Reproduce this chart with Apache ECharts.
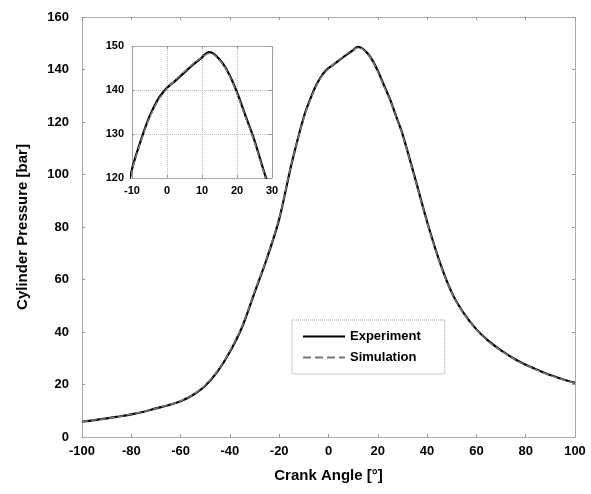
<!DOCTYPE html>
<html>
<head>
<meta charset="utf-8">
<script src="https://cdn.jsdelivr.net/npm/echarts@6/dist/echarts.min.js"></script>
<style>html,body{margin:0;padding:0;background:#fff}#c{width:591px;height:494px}</style>
</head>
<body>
<div id="c"></div>
<script>
const crankAngle = [-100,-95,-90,-85,-80,-75,-70,-65,-60,-55,-50,-45,-40,-35,-30,-25,-20,-15,-10,-7.5,-5,-2.5,-1,0,2.5,5,7.5,10,11,12,13,14,16,18,20,22.5,25,27.5,30,35,40,45,50,55,60,65,70,75,80,85,90,95,100];
const experiment = [5.8,6.4,7.1,7.8,8.6,9.6,10.9,12.1,13.6,16.0,19.5,25.0,32.5,42.0,55.0,68.0,83.0,104.0,122.0,128.5,134.0,138.0,139.6,140.5,142.2,144.0,145.8,147.4,148.2,148.6,148.4,147.8,146.0,143.2,139.5,134.0,128.5,122.0,115.5,99.0,82.0,67.0,55.0,47.0,41.0,36.5,33.0,30.0,27.5,25.5,23.6,22.0,20.6];
const simulation = [5.9,6.5,7.1,7.8,8.7,9.7,10.9,12.2,13.7,16.1,19.7,25.2,32.7,42.3,55.3,68.3,83.3,104.2,121.7,128.2,133.7,137.7,139.3,140.3,142.4,144.2,146.0,147.5,148.0,148.3,148.2,147.6,145.8,143.0,139.2,133.7,128.2,121.7,115.2,98.7,81.8,66.8,54.8,46.9,40.9,36.4,32.9,29.9,27.4,25.4,23.5,21.9,20.5];
const xTicksMain = {min:-100, max:100, interval:20};
const yTicksMain = {min:0, max:160, interval:20};
const xTicksInset = {min:-10, max:30, interval:10};
const yTicksInset = {min:120, max:150, interval:10};

const expData = crankAngle.map((a,i)=>[a,experiment[i]]);
const simData = crankAngle.map((a,i)=>[a,simulation[i]]);

const FONT = 'Liberation Sans, Arial, sans-serif';
const boxLine = {show:true, onZero:false, lineStyle:{color:'#999', type:'dotted', width:1}};
const tick = {show:true, inside:true, length:3, lineStyle:{color:'#999'}};

function boxAxis(base, gridIndex, position){
  return Object.assign({}, base, {type:'value', gridIndex, position, axisLine:boxLine, axisTick:tick, axisLabel:{show:false}, splitLine:{show:false}});
}

const chart = echarts.init(document.getElementById('c'));
chart.setOption({
  backgroundColor:'#fff',
  animation:false,
  grid:[
    {left:82, right:16, top:17, bottom:57},
    {left:132, right:319, top:46, bottom:316, show:true, backgroundColor:'#fff', borderWidth:0, z:5}
  ],
  xAxis:[
    Object.assign({type:'value', gridIndex:0, position:'bottom', axisLine:boxLine, axisTick:tick,
      axisLabel:{color:'#000', fontWeight:'bold', fontSize:13, fontFamily:FONT, margin:8},
      splitLine:{show:false},
      name:'Crank Angle [°]', nameLocation:'middle', nameGap:31,
      nameTextStyle:{color:'#000', fontWeight:'bold', fontSize:15, fontFamily:FONT}}, xTicksMain),
    Object.assign({type:'value', gridIndex:1, position:'bottom', axisLine:boxLine, axisTick:tick,
      axisLabel:{color:'#000', fontWeight:'bold', fontSize:11, fontFamily:FONT, margin:7},
      splitLine:{show:true, lineStyle:{color:'#bbb', type:'dotted'}}, z:6}, xTicksInset),
    boxAxis(xTicksMain, 0, 'top'),
    Object.assign(boxAxis(xTicksInset, 1, 'top'), {z:6})
  ],
  yAxis:[
    Object.assign({type:'value', gridIndex:0, position:'left', axisLine:boxLine, axisTick:tick,
      axisLabel:{color:'#000', fontWeight:'bold', fontSize:13, fontFamily:FONT, margin:13},
      splitLine:{show:false},
      name:'Cylinder Pressure [bar]', nameLocation:'middle', nameGap:52,
      nameTextStyle:{color:'#000', fontWeight:'bold', fontSize:15, fontFamily:FONT}}, yTicksMain),
    Object.assign({type:'value', gridIndex:1, position:'left', axisLine:boxLine, axisTick:tick,
      axisLabel:{color:'#000', fontWeight:'bold', fontSize:11, fontFamily:FONT, margin:8},
      splitLine:{show:true, lineStyle:{color:'#bbb', type:'dotted'}}, z:6}, yTicksInset),
    boxAxis(yTicksMain, 0, 'right'),
    Object.assign(boxAxis(yTicksInset, 1, 'right'), {z:6})
  ],
  legend:{
    orient:'vertical', left:292, top:320,
    padding:[10,24,10,10], itemGap:8, itemWidth:42, itemHeight:14,
    borderColor:'#999', borderWidth:1, borderType:'dotted', backgroundColor:'#fff',
    itemStyle:{opacity:0},
    textStyle:{color:'#000', fontWeight:'bold', fontSize:13, fontFamily:FONT},
    data:['Experiment','Simulation']
  },
  series:[
    {name:'Experiment', type:'line', xAxisIndex:0, yAxisIndex:0, data:expData, symbol:'none', smooth:0.3,
      lineStyle:{color:'#000', width:2.2}, itemStyle:{color:'#000'}},
    {name:'Simulation', type:'line', xAxisIndex:0, yAxisIndex:0, data:simData, symbol:'none', smooth:0.3,
      lineStyle:{color:'#777', width:1.5, type:'dashed'}, itemStyle:{color:'#777'}},
    {name:'Experiment', type:'line', xAxisIndex:1, yAxisIndex:1, data:expData, symbol:'none', smooth:0.3, z:7,
      lineStyle:{color:'#000', width:2.2}, itemStyle:{color:'#000'}},
    {name:'Simulation', type:'line', xAxisIndex:1, yAxisIndex:1, data:simData, symbol:'none', smooth:0.3, z:7,
      lineStyle:{color:'#777', width:1.5, type:'dashed'}, itemStyle:{color:'#777'}}
  ]
});
</script>
</body>
</html>
